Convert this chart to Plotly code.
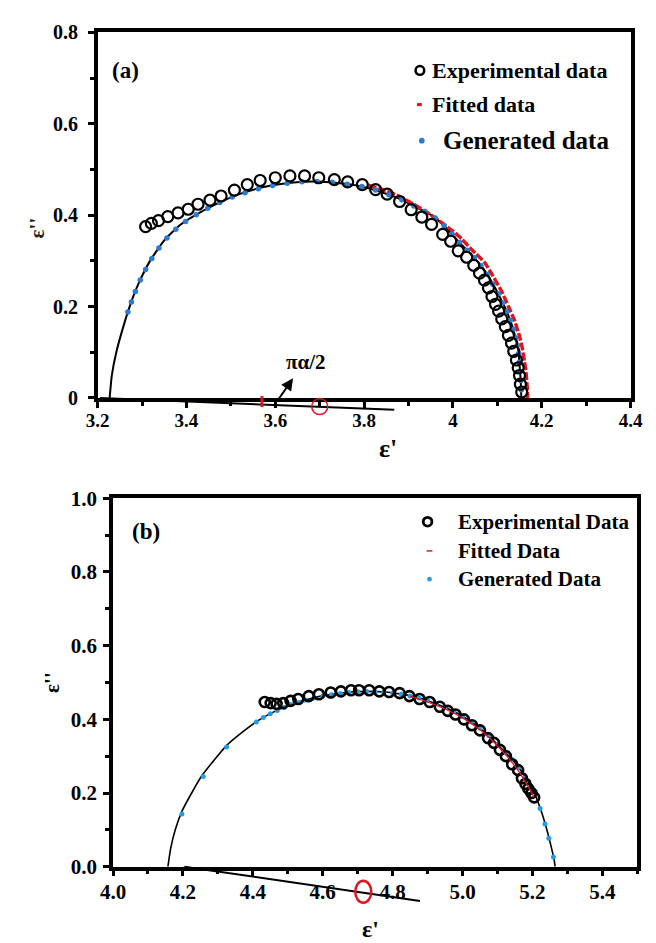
import plotly.graph_objects as go

# ---------------- Panel (a) data ----------------
a_exp_x = [3.308, 3.321, 3.337, 3.358, 3.381, 3.404, 3.426, 3.453, 3.478, 3.508, 3.537, 3.566,
           3.600, 3.633, 3.666, 3.698, 3.733, 3.763, 3.796, 3.826, 3.852, 3.880, 3.906, 3.930,
           3.952, 3.977, 3.995, 4.012, 4.031, 4.047, 4.060, 4.071, 4.080, 4.088, 4.096, 4.103,
           4.110, 4.118, 4.125, 4.132, 4.137, 4.143, 4.147, 4.150, 4.152, 4.155]
a_exp_y = [0.375, 0.382, 0.388, 0.397, 0.405, 0.413, 0.424, 0.433, 0.442, 0.455, 0.467, 0.476,
           0.482, 0.486, 0.486, 0.482, 0.478, 0.473, 0.467, 0.456, 0.446, 0.430, 0.412, 0.396,
           0.380, 0.358, 0.343, 0.322, 0.308, 0.290, 0.273, 0.258, 0.241, 0.222, 0.205, 0.190,
           0.173, 0.156, 0.137, 0.120, 0.102, 0.083, 0.066, 0.049, 0.030, 0.013]

a_fit_x = [3.227, 3.232, 3.242, 3.256, 3.272, 3.292, 3.318, 3.350, 3.385, 3.420, 3.462, 3.516,
           3.571, 3.635, 3.685, 3.735, 3.789, 3.834, 3.880, 3.920, 3.955, 3.985, 4.012, 4.038,
           4.063, 4.085, 4.103, 4.120, 4.132, 4.141, 4.147, 4.151, 4.153, 4.154]
a_fit_y = [0.000, 0.050, 0.100, 0.150, 0.200, 0.250, 0.300, 0.345, 0.378, 0.400, 0.422, 0.445,
           0.461, 0.471, 0.474, 0.471, 0.464, 0.452, 0.436, 0.416, 0.398, 0.372, 0.343, 0.317,
           0.290, 0.258, 0.226, 0.192, 0.162, 0.132, 0.105, 0.062, 0.030, 0.000]

a_gen_x = [3.268, 3.276, 3.285, 3.296, 3.308, 3.322, 3.338, 3.356, 3.376, 3.398, 3.422, 3.448,
           3.475, 3.503, 3.532, 3.562, 3.594, 3.627, 3.660, 3.694, 3.728, 3.762, 3.795, 3.826,
           3.856, 3.885, 3.912, 3.937, 3.960, 3.980, 3.998, 4.015, 4.032, 4.048, 4.063, 4.077,
           4.090, 4.102, 4.112, 4.121, 4.129, 4.136, 4.141, 4.145, 4.148, 4.150, 4.152, 4.153, 4.154]
a_gen_y = [0.188, 0.210, 0.233, 0.258, 0.281, 0.305, 0.328, 0.350, 0.369, 0.386, 0.401, 0.415,
           0.428, 0.440, 0.449, 0.458, 0.465, 0.470, 0.473, 0.474, 0.472, 0.468, 0.463, 0.455,
           0.445, 0.434, 0.420, 0.408, 0.394, 0.377, 0.359, 0.340, 0.323, 0.307, 0.290, 0.270,
           0.249, 0.228, 0.208, 0.189, 0.170, 0.150, 0.132, 0.115, 0.097, 0.078, 0.058, 0.038, 0.018]

a_fitted_x = [3.810, 3.850, 3.880, 3.910, 3.940, 3.970, 4.000, 4.020, 4.045, 4.071, 4.090, 4.110,
              4.125, 4.139, 4.150, 4.157, 4.161, 4.164, 4.166, 4.168, 4.168]
a_fitted_y = [0.466, 0.453, 0.441, 0.425, 0.407, 0.387, 0.365, 0.348, 0.322, 0.297, 0.267, 0.233,
              0.200, 0.169, 0.135, 0.105, 0.080, 0.062, 0.040, 0.013, 0.000]

# annotation geometry (a)
a_angle_line_x = [3.205, 3.868]
a_angle_line_y = [0.000, -0.026]
a_arrow_tail = (3.603, -0.009)
a_arrow_head = (3.640, 0.043)
a_red_tick_x = 3.570
a_red_tick_y = [0.004, -0.020]
a_red_circle = (3.700, -0.019)

# ---------------- Panel (b) data ----------------
b_exp_x = [4.434, 4.451, 4.468, 4.487, 4.508, 4.530, 4.560, 4.589, 4.623, 4.652, 4.681, 4.704,
           4.733, 4.762, 4.790, 4.820, 4.848, 4.877, 4.906, 4.935, 4.958, 4.980, 5.004, 5.027,
           5.050, 5.073, 5.090, 5.107, 5.124, 5.142, 5.159, 5.170, 5.180, 5.188, 5.197, 5.205]
b_exp_y = [0.447, 0.444, 0.442, 0.444, 0.450, 0.455, 0.463, 0.468, 0.473, 0.476, 0.479, 0.479,
           0.479, 0.476, 0.474, 0.471, 0.463, 0.455, 0.447, 0.434, 0.423, 0.413, 0.400, 0.384,
           0.370, 0.349, 0.336, 0.317, 0.300, 0.278, 0.262, 0.240, 0.225, 0.212, 0.200, 0.188]

b_fit_x = [4.157, 4.165, 4.178, 4.197, 4.225, 4.255, 4.290, 4.324, 4.370, 4.416, 4.470, 4.520,
           4.580, 4.635, 4.690, 4.727, 4.780, 4.820, 4.870, 4.911, 4.960, 5.003, 5.040, 5.073,
           5.110, 5.142, 5.170, 5.200, 5.222, 5.236, 5.247, 5.256, 5.262, 5.265]
b_fit_y = [0.000, 0.050, 0.100, 0.150, 0.200, 0.248, 0.290, 0.328, 0.365, 0.397, 0.425, 0.444,
           0.460, 0.469, 0.475, 0.476, 0.474, 0.469, 0.460, 0.447, 0.428, 0.407, 0.383, 0.357,
           0.322, 0.291, 0.257, 0.212, 0.160, 0.118, 0.080, 0.045, 0.020, 0.000]

b_gen_x = [4.197, 4.258, 4.325, 4.410, 4.430, 4.450, 4.470, 4.490, 4.510, 4.530, 4.550, 4.575,
           4.600, 4.625, 4.650, 4.675, 4.700, 4.725, 4.750, 4.775, 4.800, 4.825, 4.850, 4.875,
           4.900, 4.925, 4.950, 4.975, 5.000, 5.025, 5.050, 5.075, 5.100, 5.120, 5.140, 5.160,
           5.180, 5.200, 5.222, 5.236, 5.247, 5.260]
b_gen_y = [0.143, 0.245, 0.325, 0.393, 0.405, 0.415, 0.424, 0.432, 0.440, 0.446, 0.452, 0.458,
           0.463, 0.467, 0.470, 0.473, 0.475, 0.476, 0.475, 0.474, 0.471, 0.468, 0.463, 0.458,
           0.451, 0.443, 0.432, 0.421, 0.408, 0.393, 0.376, 0.356, 0.332, 0.311, 0.292, 0.270,
           0.242, 0.212, 0.158, 0.116, 0.077, 0.026]

b_fitted_x = [4.850, 4.900, 4.950, 5.000, 5.050, 5.090, 5.125, 5.160, 5.185, 5.205]
b_fitted_y = [0.462, 0.447, 0.428, 0.404, 0.372, 0.338, 0.302, 0.260, 0.222, 0.188]

b_angle_line_x = [4.204, 4.878]
b_angle_line_y = [0.000, -0.093]
b_red_ellipse = (4.716, -0.068)

# ---------------- Layout constants ----------------
W, H = 656, 943
FONT = "Liberation Serif"
A_XR, A_YR = [3.2, 4.4], [0, 0.8]
B_XR, B_YR = [4.0, 5.5], [0, 1.0]
A_XD, A_YD = [88 / W, 642 / W], [1 - 396 / H, 1 - 21 / H]
B_XD, B_YD = [104 / W, 649 / W], [1 - 877 / H, 1 - 499 / H]
RED = "#e0141e"
BLUE_A = "#2b7bd0"
BLUE_B = "#1f9ee8"


def P(x, y):
    return x / W, 1 - y / H


fig = go.Figure()

# ---- Panel (a) traces ----
fig.add_trace(go.Scatter(x=a_fit_x, y=a_fit_y, mode="lines",
                         line=dict(color="black", width=2, shape="spline", smoothing=0.5),
                         xaxis="x", yaxis="y", showlegend=False, hoverinfo="skip"))
fig.add_trace(go.Scatter(x=a_fitted_x, y=a_fitted_y, mode="lines",
                         line=dict(color=RED, width=3.5, shape="spline", smoothing=0.5, dash="8px,2px"),
                         xaxis="x", yaxis="y", showlegend=False, hoverinfo="skip"))
fig.add_trace(go.Scatter(x=a_gen_x, y=a_gen_y, mode="markers",
                         marker=dict(color=BLUE_A, size=5.5),
                         xaxis="x", yaxis="y", showlegend=False, cliponaxis=False))
fig.add_trace(go.Scatter(x=a_exp_x, y=a_exp_y, mode="markers",
                         marker=dict(symbol="circle-open", color="black", size=11,
                                     line=dict(width=2.2, color="black")),
                         xaxis="x", yaxis="y", showlegend=False, cliponaxis=False))

# ---- Panel (b) traces ----
fig.add_trace(go.Scatter(x=b_fit_x, y=b_fit_y, mode="lines",
                         line=dict(color="black", width=1.6, shape="spline", smoothing=0.5),
                         xaxis="x2", yaxis="y2", showlegend=False, hoverinfo="skip"))
fig.add_trace(go.Scatter(x=b_gen_x, y=b_gen_y, mode="markers",
                         marker=dict(color=BLUE_B, size=5),
                         xaxis="x2", yaxis="y2", showlegend=False, cliponaxis=False))
fig.add_trace(go.Scatter(x=b_exp_x, y=b_exp_y, mode="markers",
                         marker=dict(symbol="circle-open", color="black", size=10,
                                     line=dict(width=2.6, color="black")),
                         xaxis="x2", yaxis="y2", showlegend=False, cliponaxis=False))
fig.add_trace(go.Scatter(x=b_fitted_x, y=b_fitted_y, mode="lines",
                         line=dict(color=RED, width=1.3, shape="spline", smoothing=0.5),
                         xaxis="x2", yaxis="y2", showlegend=False, hoverinfo="skip"))

shapes = []
annotations = []

# ---- Panel (a) decorations ----
shapes.append(dict(type="line", xref="x", yref="y domain",
                   x0=a_angle_line_x[0], x1=a_angle_line_x[1],
                   y0=a_angle_line_y[0] / A_YR[1], y1=a_angle_line_y[1] / A_YR[1],
                   line=dict(color="black", width=2)))
shapes.append(dict(type="line", xref="x", yref="y domain",
                   x0=a_red_tick_x, x1=a_red_tick_x,
                   y0=a_red_tick_y[0] / A_YR[1], y1=a_red_tick_y[1] / A_YR[1],
                   line=dict(color=RED, width=3)))
shapes.append(dict(type="circle", xref="x", yref="y domain", xsizemode="pixel", ysizemode="pixel",
                   xanchor=a_red_circle[0], yanchor=a_red_circle[1] / A_YR[1],
                   x0=-8, x1=8, y0=-8, y1=8, line=dict(color=RED, width=1.5)))
annotations.append(dict(x=a_arrow_head[0], y=a_arrow_head[1], ax=a_arrow_tail[0], ay=a_arrow_tail[1],
                        xref="x", yref="y", axref="x", ayref="y", text="", showarrow=True,
                        arrowhead=2, arrowsize=1.2, arrowwidth=2, arrowcolor="black"))

# ---- Panel (b) decorations ----
shapes.append(dict(type="line", xref="x2", yref="y2 domain",
                   x0=b_angle_line_x[0], x1=b_angle_line_x[1],
                   y0=b_angle_line_y[0] / B_YR[1], y1=b_angle_line_y[1] / B_YR[1],
                   line=dict(color="black", width=2)))
shapes.append(dict(type="circle", xref="x2", yref="y2 domain", xsizemode="pixel", ysizemode="pixel",
                   xanchor=b_red_ellipse[0], yanchor=b_red_ellipse[1] / B_YR[1],
                   x0=-8, x1=8, y0=-11, y1=11, line=dict(color=RED, width=2.5)))

# ---- Legends (manual) ----
def dot(cx, cy, d, fill, line_color, lw):
    x0, y0 = P(cx - d / 2, cy + d / 2)
    x1, y1 = P(cx + d / 2, cy - d / 2)
    return dict(type="circle", xref="paper", yref="paper", x0=x0, x1=x1, y0=y0, y1=y1,
                fillcolor=fill, line=dict(color=line_color, width=lw))


def dash(xa, xb, cy, color, lw):
    x0, y0 = P(xa, cy)
    x1, _ = P(xb, cy)
    return dict(type="line", xref="paper", yref="paper", x0=x0, x1=x1, y0=y0, y1=y0,
                line=dict(color=color, width=lw))


shapes += [dot(423, 60, 9, "rgba(0,0,0,0)", "black", 2.5),
           dash(420, 425, 95, RED, 3),
           dot(425, 132, 6, BLUE_A, BLUE_A, 0),
           dot(431, 523, 9, "rgba(0,0,0,0)", "black", 2.8),
           dash(430, 436, 553, "#e04848", 1.8),
           dot(433, 582, 5, BLUE_B, BLUE_B, 0)]


def txt(text, x, y, size, xanchor="left", angle=0, color="black"):
    px_, py_ = P(x, y)
    annotations.append(dict(text=text, x=px_, y=py_, xref="paper", yref="paper",
                            xanchor=xanchor, yanchor="middle", showarrow=False, textangle=angle,
                            font=dict(family=FONT, size=size, color=color, weight="bold")))


txt("Experimental data", 434, 60, 22)
txt("Fitted data", 434, 95, 22)
txt("Generated data", 445, 132, 25)
txt("Experimental Data", 461, 523, 21)
txt("Fitted Data", 461, 553, 21)
txt("Generated Data", 461, 582, 21)
txt("(a)", 117, 60, 23, xanchor="center")
txt("(b)", 138, 533, 23, xanchor="center")
txt("πα/2", 305, 359, 21, xanchor="center")
txt("ε'", 390, 448, 26, xanchor="center")
txt("ε''", 25, 222, 21, xanchor="center", angle=-90, color="#2e1c10")
txt("ε'", 372, 941, 24, xanchor="center")
txt("ε''", 41, 688, 21, xanchor="center", angle=-90)


def axis(domain, rng, anchor, dtick, size, fmt=None, lw=3.5, standoff=4):
    d = dict(domain=domain, range=rng, anchor=anchor, showline=True, linecolor="black",
             linewidth=lw, mirror=True, ticks="outside", ticklen=6, tickwidth=2.5,
             tickcolor="black", tick0=rng[0], dtick=dtick, showgrid=False, zeroline=False,
             ticklabelstandoff=standoff,
             tickfont=dict(family=FONT, size=size, color="black", weight="bold"),
             minor=dict(tick0=rng[0], dtick=dtick / 2, ticks="outside", ticklen=4,
                        tickwidth=2.5, tickcolor="black", showgrid=False))
    if fmt:
        d["tickformat"] = fmt
    return d


fig.update_layout(
    width=W, height=H, margin=dict(l=0, r=0, t=0, b=0),
    paper_bgcolor="white", plot_bgcolor="white", showlegend=False,
    xaxis=axis(A_XD, A_XR, "y", 0.2, 19, standoff=-3),
    yaxis=axis(A_YD, A_YR, "x", 0.2, 20, standoff=6),
    xaxis2=axis(B_XD, B_XR, "y2", 0.2, 21, fmt=".1f", standoff=-3),
    yaxis2=axis(B_YD, B_YR, "x2", 0.2, 21, fmt=".1f", standoff=2),
    shapes=shapes, annotations=annotations,
)

fig.write_html("out.html",
               post_script="document.body.style.margin='0';document.body.style.overflow='hidden';")
